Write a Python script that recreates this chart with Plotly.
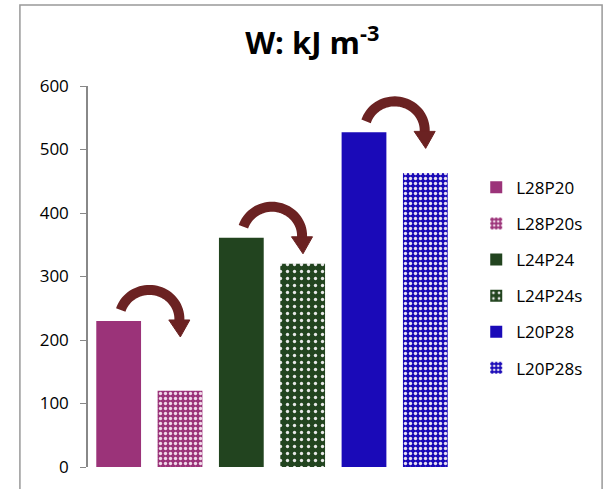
import numpy as np
import plotly.graph_objects as go

# ---- data ----
series_names = ["L28P20", "L28P20s", "L24P24", "L24P24s", "L20P28", "L20P28s"]
values = [230, 120, 361, 320, 527, 463]
colors = ["#9B3379", "#9B3379", "#22441F", "#22441F", "#1A0AB8", "#1A0AB8"]
patterned = [False, True, False, True, False, True]
y_ticks = [0, 100, 200, 300, 400, 500, 600]

fig = go.Figure()
for i, (name, v, c, p) in enumerate(zip(series_names, values, colors, patterned)):
    marker = dict(color=c, line=dict(width=0))
    if p:
        if c == "#22441F":
            marker["pattern"] = dict(shape=".", fgcolor="#E8E8E8", bgcolor=c, size=7, solidity=0.18, fillmode="replace")
        else:
            marker["pattern"] = dict(shape=".", fgcolor="#E6E0F0" if c == "#1A0AB8" else "#F0D8E8", bgcolor=c, size=5, solidity=0.35, fillmode="replace")
    fig.add_trace(go.Bar(x=[i], y=[v], name=name, marker=marker, width=0.73,
                         legendgroup=name, showlegend=True))

# curved arrows from each solid bar to its "s" counterpart
px_per_x = 61.2
px_per_y = 381 / 600
arrow_color = "#6B2222"
shapes = []
for k in range(0, 6, 2):
    v_solid = values[k]
    cx = k + 0.5
    cy = v_solid + 2 / px_per_y
    rx = 30 / px_per_x
    ry = 29 / px_per_y
    th = np.linspace(np.radians(162), np.radians(-4), 40)
    xs = cx + rx * np.cos(th)
    ys = cy + ry * np.sin(th)
    path = "M " + " L ".join(f"{a:.4f},{b:.3f}" for a, b in zip(xs, ys))
    shapes.append(dict(type="path", path=path, xref="x", yref="y",
                       line=dict(color=arrow_color, width=10)))
    # arrow head
    ex, ey = xs[-1], ys[-1]
    hw = 10.5 / px_per_x
    hl = 16 / px_per_y
    head = (f"M {ex - hw:.4f},{ey + 1 / px_per_y:.3f} L {ex + hw:.4f},{ey + 1 / px_per_y:.3f} "
            f"L {ex + 1 / px_per_x:.4f},{ey - hl:.3f} Z")
    shapes.append(dict(type="path", path=head, xref="x", yref="y",
                       fillcolor=arrow_color, line=dict(color=arrow_color, width=1)))

# outer chart border
shapes.append(dict(type="rect", xref="paper", yref="paper",
                   x0=-0.185, x1=1.397, y0=-0.1, y1=1.2126,
                   line=dict(color="#999999", width=1.5), fillcolor="rgba(0,0,0,0)", layer="below"))

fig.update_layout(
    width=604, height=489,
    margin=dict(l=88, r=148, t=86, b=22),
    paper_bgcolor="white", plot_bgcolor="white",
    title=dict(text="<b>W: kJ m<sup>-3</sup></b>", x=0.517, xanchor="center", y=0.912, yanchor="middle",
               font=dict(family="Open Sans", size=31, color="black")),
    barmode="overlay",
    showlegend=True,
    legend=dict(x=1.055, xanchor="left", y=0.78, yanchor="top",
                font=dict(family="Open Sans", size=17, color="black"),
                tracegroupgap=11, bgcolor="rgba(0,0,0,0)", itemwidth=30),
    xaxis=dict(range=[-0.5, 5.5], visible=False, fixedrange=True),
    yaxis=dict(range=[0, 600], tickvals=y_ticks, ticks="outside", ticklen=6, tickcolor="#888888",
               showline=True, linecolor="#888888", linewidth=1.5, showgrid=False, zeroline=False,
               tickfont=dict(family="Open Sans", size=17, color="black"), ticklabelstandoff=8),
    shapes=shapes,
    font=dict(family="Open Sans"),
)

fig.write_html("out.html")
